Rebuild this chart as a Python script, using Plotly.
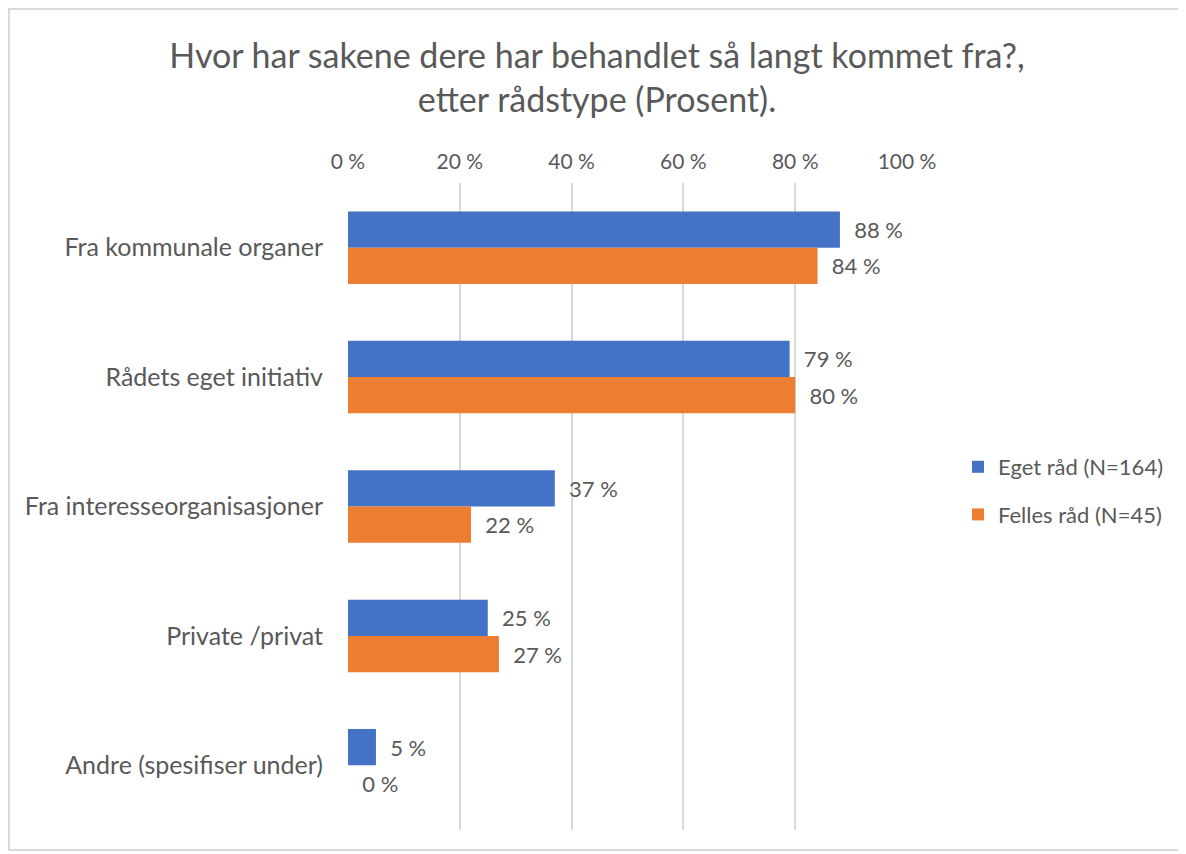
import plotly.graph_objects as go

categories = ["Fra kommunale organer", "Rådets eget initiativ", "Fra interesseorganisasjoner",
              "Private /privat", "Andre (spesifiser under)"]
eget = [88, 79, 37, 25, 5]
felles = [84, 80, 22, 27, 0]
series_names = ["Eget råd (N=164)", "Felles råd (N=45)"]
tick_vals = [0, 20, 40, 60, 80, 100]
tick_text = ["0 %", "20 %", "40 %", "60 %", "80 %", "100 %"]

FONT = "Lato"
GRAY = "#595959"

fig = go.Figure()
for name, vals, color in [(series_names[0], eget, "#4472C4"), (series_names[1], felles, "#ED7D31")]:
    fig.add_trace(go.Bar(
        y=categories, x=vals, name=name, orientation="h",
        marker=dict(color=color, line=dict(width=0)),
        text=[f"  {v} %" for v in vals], textposition="outside",
        textfont=dict(family=FONT, size=22, color=GRAY),
        cliponaxis=False, legendgroup=name,
    ))

W, H = 1178, 846
L, T = 340, 175
R = W - 899
B = H - 822
pw, ph = W - L - R, H - T - B

fig.update_layout(
    width=W, height=H,
    margin=dict(l=L, r=R, t=T, b=B),
    paper_bgcolor="white", plot_bgcolor="white",
    barmode="group", bargap=0.44, bargroupgap=0,
    font=dict(family=FONT, size=21, color=GRAY),
    title=dict(text="Hvor har sakene dere har behandlet så langt kommet fra?,<br>etter rådstype (Prosent).",
               x=0.5, xanchor="center", y=1 - 60 / H, yanchor="middle",
               font=dict(family=FONT, size=34, color=GRAY)),
    xaxis=dict(side="top", range=[0, 100], tickvals=tick_vals, ticktext=tick_text,
               showgrid=True, gridcolor="#D9D9D9", gridwidth=2, zeroline=False,
               showline=False, ticks="", ticklabelstandoff=9,
               tickfont=dict(family=FONT, size=21, color=GRAY)),
    yaxis=dict(autorange="reversed", showgrid=False, showline=False, ticks="",
               ticklabelstandoff=24, tickfont=dict(family=FONT, size=25, color=GRAY)),
    legend=dict(x=(950 - L) / pw, xanchor="left", y=(H - B - 483) / ph, yanchor="middle",
                tracegroupgap=16, font=dict(family=FONT, size=22, color=GRAY),
                bgcolor="rgba(0,0,0,0)"),
    showlegend=True,
)

fig.add_shape(type="rect", xref="paper", yref="paper",
              x0=(1 - L) / pw, x1=(1172 - L) / pw, y0=(H - B - 842) / ph, y1=(H - B - 1) / ph,
              line=dict(color="#D9D9D9", width=2), fillcolor="rgba(0,0,0,0)", layer="below")

fig.write_html("out.html")
